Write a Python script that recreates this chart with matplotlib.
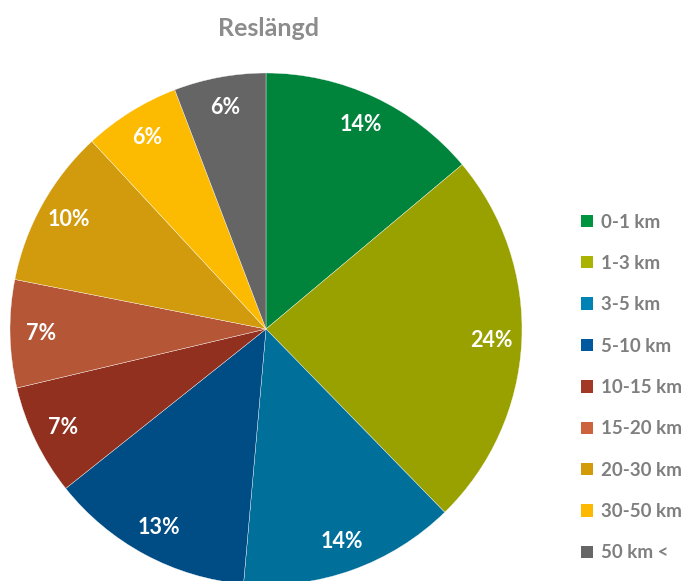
import matplotlib
matplotlib.use("Agg")
import matplotlib.pyplot as plt
from matplotlib.patches import Patch

categories = ["0-1 km", "1-3 km", "3-5 km", "5-10 km", "10-15 km", "15-20 km", "20-30 km", "30-50 km", "50 km <"]
values = [13.9, 23.8, 13.7, 12.9, 7.0, 6.8, 10.0, 6.1, 5.8]
pie_colors = ["#00843C", "#99A100", "#006F9A", "#004C85", "#91301F", "#B55737", "#D29B0D", "#FCBA00", "#656565"]
legend_colors = ["#009440", "#AAB400", "#0082B4", "#00589E", "#A33826", "#CD633E", "#D39A0A", "#FDB900", "#666666"]
title = "Reslängd"

plt.rcParams['font.family'] = ['Lato', 'DejaVu Sans']

fig = plt.figure(figsize=(6.88, 5.81), dpi=100)
ax = fig.add_axes([10/688, (581-329-256)/581, 512/688, 512/581])
wedges, texts, autotexts = ax.pie(
    values, colors=pie_colors, startangle=90, counterclock=False,
    autopct='%1.0f%%', pctdistance=0.88, radius=1,
    wedgeprops=dict(edgecolor='white', linewidth=0.25),
    textprops=dict(color='white', fontsize=15.5, fontweight='bold'))
ax.set_xlim(-1, 1)
ax.set_ylim(-1, 1)

fig.text(268/688, 1-29/581, title, ha='center', va='center', fontsize=18,
         fontweight='bold', color='#8C8C8C')

handles = [Patch(facecolor=c, edgecolor='none') for c in legend_colors]
fig.legend(handles, categories, loc='upper left',
           bbox_to_anchor=(581/688, 1-213.5/581), frameon=False,
           borderpad=0, borderaxespad=0, handlelength=0.64, handleheight=0.64,
           handletextpad=0.42, labelspacing=1.3,
           prop=dict(family=['Lato', 'DejaVu Sans'], size=13.5, weight='bold'),
           labelcolor='#7F7F7F')

fig.savefig("out.png", dpi=100)
